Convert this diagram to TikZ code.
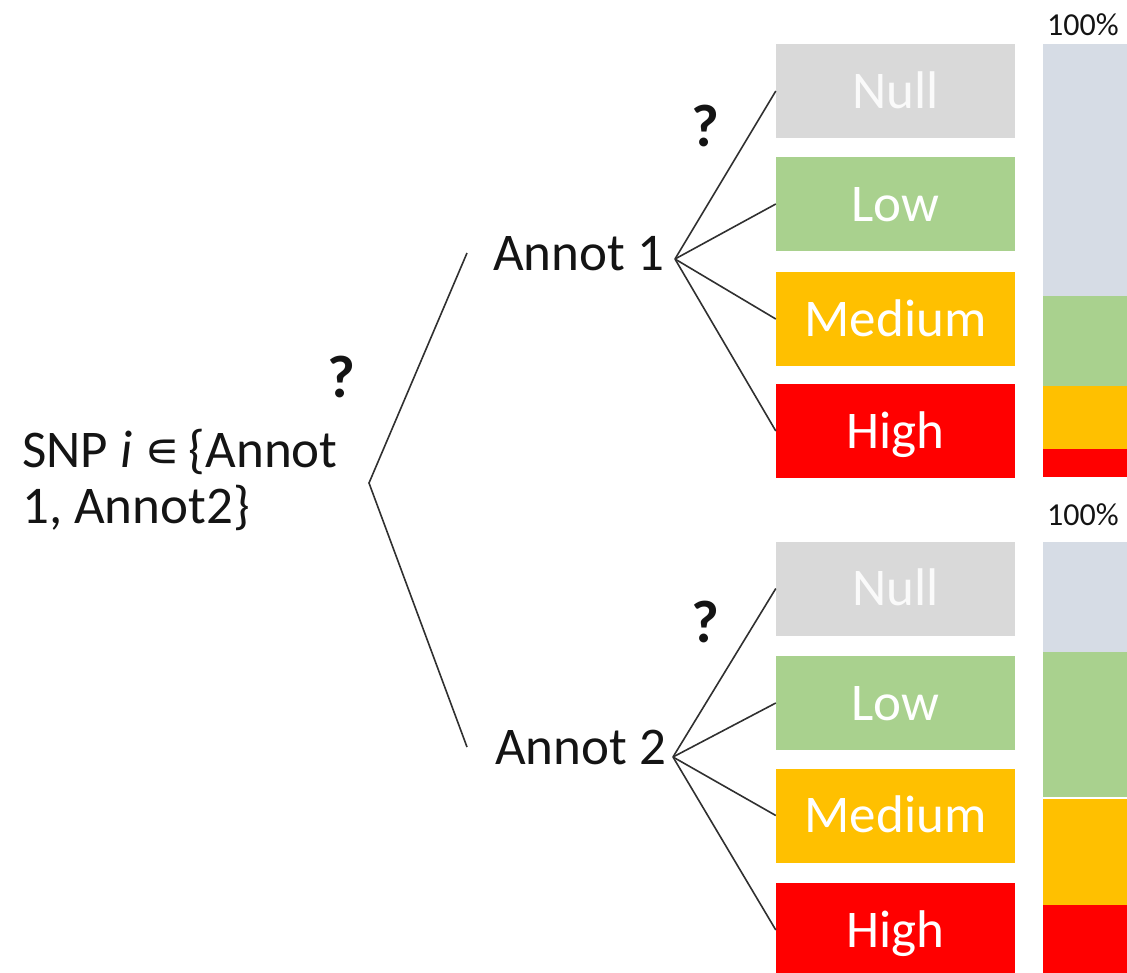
\documentclass[tikz,border=0pt]{standalone}
\usepackage{fontspec}
\setmainfont{Carlito}
\newfontfamily\symfont{DejaVu Sans}
\definecolor{nullgray}{HTML}{D9D9D9}
\definecolor{nulltext}{HTML}{FAFAFA}
\definecolor{lowgreen}{HTML}{A9D18E}
\definecolor{medorange}{HTML}{FFC000}
\definecolor{highred}{HTML}{FF0000}
\definecolor{barnull}{HTML}{D6DCE5}
\definecolor{linegray}{HTML}{303030}
\definecolor{inktext}{HTML}{141414}
\newcommand\lblfont{\fontsize{53bp}{56bp}\selectfont}
\newcommand\qfont{\fontsize{60bp}{64bp}\selectfont\bfseries}
\newcommand\pctfont{\fontsize{32bp}{36bp}\selectfont}
\tikzset{
  lbl/.style={font=\lblfont, text=inktext, inner sep=0pt},
  catbox/.style={minimum width=239bp, minimum height=94bp, inner sep=0pt,
    text height=34bp, text depth=0pt, font=\lblfont, text=white},
  edge/.style={draw=linegray, line width=1.6bp},
  qmark/.style={font=\qfont, text=inktext, inner sep=0pt, anchor=base},
  pct/.style={font=\pctfont, text=inktext, anchor=base west, inner sep=0pt}
}
\begin{document}
\begin{tikzpicture}[x=1bp, y=-1bp]
\useasboundingbox (0,0) rectangle (1127,973);

% root statement
\node[lbl, anchor=base west] (snp1) at (22,467) {SNP \textit{i} {\symfont\fontsize{50bp}{54bp}\selectfont ∊}\,\{Annot};
\node[lbl, anchor=base west] (snp2) at (22,523) {1, Annot2\}};
\node[qmark] (q0) at (341,397) {?};

% first-level branch
\coordinate (root) at (369,483);
\coordinate (a1in) at (467,253);
\coordinate (a2in) at (467,747);
\draw[edge] (a1in) -- (root) -- (a2in);

% annotation 1
\node[lbl, anchor=base west] (annot1) at (493,270) {Annot 1};
\coordinate (j1) at (675,259);
\node[qmark] (q1) at (705,146) {?};
\node[catbox, fill=nullgray, text=nulltext] (null1) at (895.5,91) {Null};
\node[catbox, fill=lowgreen] (low1) at (895.5,204) {Low};
\node[catbox, fill=medorange] (med1) at (895.5,319) {Medium};
\node[catbox, fill=highred] (high1) at (895.5,431) {High};
\foreach \b in {null1,low1,med1,high1} \draw[edge] (j1) -- (\b.west);

% annotation 2
\node[lbl, anchor=base west] (annot2) at (495,764) {Annot 2};
\coordinate (j2) at (673,757);
\node[qmark] (q2) at (705,642) {?};
\node[catbox, fill=nullgray, text=nulltext] (null2) at (895.5,588.5) {Null};
\node[catbox, fill=lowgreen] (low2) at (895.5,703) {Low};
\node[catbox, fill=medorange] (med2) at (895.5,815.5) {Medium};
\node[catbox, fill=highred] (high2) at (895.5,930) {High};
\foreach \b in {null2,low2,med2,high2} \draw[edge] (j2) -- (\b.west);

% stacked proportion bars
\node[pct] (pct1) at (1047,35) {100\%};
\fill[barnull] (1043,44) rectangle (1140,296);
\fill[lowgreen] (1043,296) rectangle (1140,386);
\fill[medorange] (1043,386) rectangle (1140,449);
\fill[highred] (1043,449) rectangle (1140,477);

\node[pct] (pct2) at (1047,525) {100\%};
\fill[barnull] (1043,542) rectangle (1140,652);
\fill[lowgreen] (1043,652) rectangle (1140,798);
\fill[medorange] (1043,798) rectangle (1140,905);
\fill[highred] (1043,905) rectangle (1140,980);
\draw[white, line width=1.2bp] (1043,798) -- (1140,798);
\end{tikzpicture}
\end{document}
